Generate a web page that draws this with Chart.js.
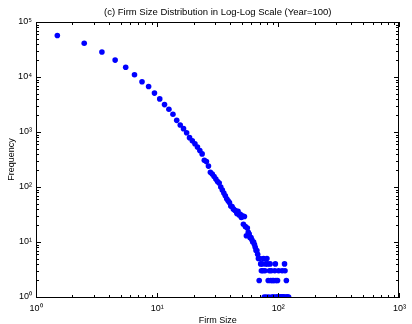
<!DOCTYPE html>
<html>
<head>
<meta charset="utf-8">
<script src="https://cdn.jsdelivr.net/npm/chart.js@4/dist/chart.umd.min.js"></script>
<style>
  html, body { margin: 0; padding: 0; background: #fff; }
  #wrap { width: 412px; height: 324px; }
</style>
</head>
<body>
<div id="wrap"><canvas id="chart" width="412" height="324"></canvas></div>
<script>
// firm size bins (bin centres) and how many firms fell in each
const firmSizes = [
  1.5, 2.5, 3.5, 4.5, 5.5, 6.5, 7.5, 8.5, 9.5, 10.5,
  11.5, 12.5, 13.5, 14.5, 15.5, 16.5, 17.5, 18.5, 19.5, 20.5,
  21.5, 22.5, 23.5, 24.5, 25.5, 26.5, 27.5, 28.5, 29.5, 30.5,
  31.5, 32.5, 33.5, 34.5, 35.5, 36.5, 37.5, 38.5, 39.5, 40.5,
  41.5, 42.5, 43.5, 44.5, 45.5, 46.5, 47.5, 48.5, 49.5, 50.5,
  51.5, 52.5, 53.5, 54.5, 55.5, 56.5, 57.5, 58.5, 59.5, 60.5,
  61.5, 62.5, 63.5, 64.5, 65.5, 66.5, 67.5, 68.5, 69.5, 70.5,
  71.5, 72.5, 73.5, 74.5, 75.5, 76.5, 77.5, 78.5, 79.5, 80.5,
  81.5, 82.5, 83.5, 84.5, 85.5, 86.5, 87.5, 88.5, 89.5, 90.5,
  91.5, 92.5, 93.5, 94.5, 95.5, 96.5, 97.5, 98.5, 99.5, 100.5,
  101.5, 102.5, 104.5, 105.5, 106.5, 107.5, 108.5, 109.5, 110.5, 111.5,
  112.5, 113.5, 115.5, 116.5, 117.5, 119.5, 121.5
];
const frequencies = [
  57000, 41000, 28500, 20300, 15000, 11000, 8200, 6700, 5100, 4000,
  3150, 2600, 2100, 1630, 1340, 1150, 970, 790, 690, 610,
  535, 460, 400, 305, 290, 240, 185, 172, 155, 140,
  126, 118, 100, 88, 78, 69, 61, 56, 52, 45,
  44, 40, 38, 37, 33, 36, 31, 32, 28, 30,
  21, 29, 19, 13, 18, 15, 14, 12, 12, 11,
  10, 10, 9, 8, 7, 7, 6, 5, 2, 5,
  4, 3, 4, 3, 5, 1, 3, 4, 1, 5,
  4, 2, 1, 3, 4, 2, 3, 1, 2, 1,
  2, 1, 3, 4, 2, 1, 1, 2, 1, 3,
  1, 1, 1, 1, 1, 3, 1, 1, 1, 1,
  4, 3, 1, 2, 1, 1, 1
];
const xDecades = [0, 1, 2, 3];
const yDecades = [0, 1, 2, 3, 4, 5];
const supDigits = ['\u2070', '\u00B9', '\u00B2', '\u00B3', '\u2074', '\u2075'];
const chartTitle = '(c) Firm Size Distribution in Log-Log Scale (Year=100)';

const FONT = 'Liberation Sans, Arial, Helvetica, sans-serif';

const points = firmSizes.map((s, i) => ({ x: s, y: frequencies[i] }));

function decadeLabel(v) {
  const e = Math.round(Math.log10(v));
  return '10' + supDigits[e];
}

// matlab style box with inward major/minor ticks, plus the title over the box
const boxTicks = {
  id: 'boxTicks',
  afterDraw(chart) {
    const ctx = chart.ctx;
    const a = chart.chartArea;
    const xs = chart.scales.x, ys = chart.scales.y;
    const l = Math.round(a.left), r = Math.round(a.right) - 1;
    const t = Math.round(a.top), b = Math.round(a.bottom);
    ctx.save();
    ctx.fillStyle = '#000';
    ctx.font = '9.5px ' + FONT;
    ctx.textAlign = 'center';
    ctx.textBaseline = 'middle';
    ctx.fillText(chartTitle, (a.left + a.right) / 2, 12);

    ctx.fillRect(l, t, r - l + 1, 1);
    ctx.fillRect(l, b, r - l + 1, 1);
    ctx.fillRect(l, t, 1, b - t + 1);
    ctx.fillRect(r, t, 1, b - t + 1);

    for (const d of xDecades) {
      for (let m = 1; m <= 9; m++) {
        const v = m * Math.pow(10, d);
        if (v > 1000) break;
        const px = Math.round(xs.getPixelForValue(v));
        const len = m === 1 ? 5 : 3;
        ctx.fillRect(px, b - len + 1, 1, len);
        ctx.fillRect(px, t, 1, len);
      }
    }
    for (const d of yDecades) {
      for (let m = 1; m <= 9; m++) {
        const v = m * Math.pow(10, d);
        if (v > 100000) break;
        const py = Math.round(ys.getPixelForValue(v));
        const len = m === 1 ? 5 : 3;
        ctx.fillRect(l, py, len, 1);
        ctx.fillRect(r - len + 1, py, len, 1);
      }
    }
    ctx.restore();
  }
};

new Chart(document.getElementById('chart'), {
  type: 'scatter',
  data: {
    datasets: [{
      label: 'Frequency',
      data: points,
      backgroundColor: '#0000FF',
      borderColor: '#0000FF',
      pointRadius: 2.8,
      pointBorderWidth: 0
    }]
  },
  options: {
    responsive: false,
    animation: false,
    layout: { padding: { left: 0, right: 6, top: 22, bottom: 0 } },
    plugins: {
      legend: { display: false },
      tooltip: { enabled: false }
    },
    scales: {
      x: {
        type: 'logarithmic',
        min: 1,
        max: 1000,
        afterBuildTicks: s => { s.ticks = xDecades.map(e => ({ value: Math.pow(10, e) })); },
        afterFit: s => { s.height = 27; },
        grid: { display: false, drawTicks: false },
        border: { display: false },
        ticks: {
          color: '#000',
          font: { family: FONT, size: 9 },
          padding: 6,
          autoSkip: false,
          maxRotation: 0,
          callback: v => decadeLabel(v)
        },
        title: {
          display: true,
          text: 'Firm Size',
          color: '#000',
          font: { family: FONT, size: 9 },
          padding: { top: 0, bottom: -2 }
        }
      },
      y: {
        type: 'logarithmic',
        min: 1,
        max: 100000,
        afterBuildTicks: s => { s.ticks = yDecades.map(e => ({ value: Math.pow(10, e) })); },
        afterFit: s => { s.width = 36; },
        grid: { display: false, drawTicks: false },
        border: { display: false },
        ticks: {
          color: '#000',
          font: { family: FONT, size: 9 },
          padding: 4,
          autoSkip: false,
          callback: v => decadeLabel(v)
        },
        title: {
          display: true,
          text: 'Frequency',
          color: '#000',
          font: { family: FONT, size: 9 },
          padding: { top: 6, bottom: 0 }
        }
      }
    }
  },
  plugins: [boxTicks]
});
</script>
</body>
</html>
